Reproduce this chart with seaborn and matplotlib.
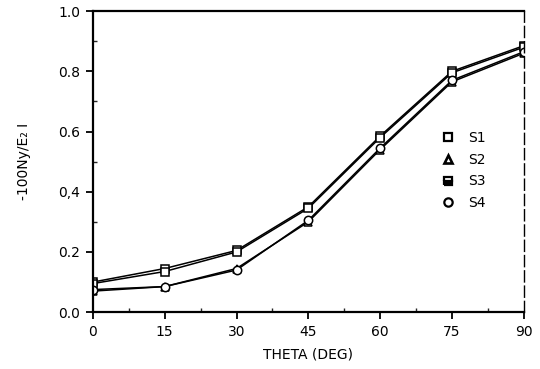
import matplotlib
matplotlib.use("Agg")
import matplotlib.pyplot as plt
from matplotlib.ticker import MultipleLocator
import seaborn as sns
import pandas as pd

theta = [0, 15, 30, 45, 60, 75, 90]
s1 = [0.10, 0.145, 0.205, 0.35, 0.585, 0.80, 0.885]
s2 = [0.07, 0.085, 0.145, 0.30, 0.54, 0.765, 0.86]
s3 = [0.095, 0.135, 0.200, 0.345, 0.580, 0.795, 0.880]
s4 = [0.075, 0.085, 0.140, 0.305, 0.545, 0.770, 0.865]
series_names = ["S1", "S2", "S3", "S4"]

df = pd.DataFrame({
    "theta": theta * 4,
    "value": s1 + s2 + s3 + s4,
    "series": sum([[n] * len(theta) for n in series_names], []),
})

sns.set_theme(style="ticks")
plt.rcParams["font.family"] = ["DejaVu Sans"]
plt.rcParams["text.color"] = "black"
plt.rcParams["axes.labelcolor"] = "black"

fig = plt.figure(figsize=(5.4, 3.69), dpi=100)
ax = fig.add_axes([0.172, 0.154, 0.798, 0.816])

markers = {"S1": "s", "S2": "^", "S3": "s", "S4": "o"}

for name in series_names:
    sub = df[df["series"] == name]
    sns.lineplot(data=sub, x="theta", y="value", ax=ax, color="black",
                 linewidth=1.1, marker=markers[name], markersize=6,
                 markerfacecolor="white", markeredgecolor="black",
                 markeredgewidth=1.1, legend=False)

# legend entries drawn as markers only
handles = [
    plt.Line2D([], [], linestyle="none", marker="s", markersize=6,
               markerfacecolor="white", markeredgecolor="black", markeredgewidth=1.6),
    plt.Line2D([], [], linestyle="none", marker="^", markersize=6,
               markerfacecolor="white", markeredgecolor="black", markeredgewidth=1.9),
    plt.Line2D([], [], linestyle="none", marker="s", markersize=6,
               markerfacecolor="black", markeredgecolor="black", markeredgewidth=1.6,
               fillstyle="bottom", markerfacecoloralt="white"),
    plt.Line2D([], [], linestyle="none", marker="o", markersize=6,
               markerfacecolor="white", markeredgecolor="black", markeredgewidth=1.6),
]
ax.legend(handles, series_names, loc="center left", bbox_to_anchor=(0.78, 0.47),
          frameon=False, fontsize=10, handletextpad=0.9, labelspacing=0.55,
          handlelength=1.0, labelcolor="black")

ax.set_xlim(0, 90)
ax.set_ylim(0, 1.0)
ax.set_xticks(theta)
ax.set_yticks([0.0, 0.2, 0.4, 0.6, 0.8, 1.0])
ax.set_yticklabels(["0.0", "0.2", "0,4", "0.6", "0.8", "1.0"])
ax.xaxis.set_minor_locator(MultipleLocator(7.5))
ax.yaxis.set_minor_locator(MultipleLocator(0.1))
ax.tick_params(which="major", direction="out", length=5, width=1.3,
               labelsize=10, colors="black", pad=4)
ax.tick_params(which="minor", direction="in", length=3, width=1.0)

for side in ["left", "bottom", "top"]:
    ax.spines[side].set_linewidth(1.6)
    ax.spines[side].set_color("black")
ax.spines["right"].set_linewidth(1.0)
ax.spines["right"].set_linestyle((0, (8, 3)))
ax.spines["right"].set_color("black")

ax.set_xlabel("THETA (DEG)", fontsize=10, labelpad=6)
ax.set_ylabel("-100Ny/E\u2082 I", fontsize=10, labelpad=20)

fig.savefig("out.png", dpi=100, facecolor="white")
